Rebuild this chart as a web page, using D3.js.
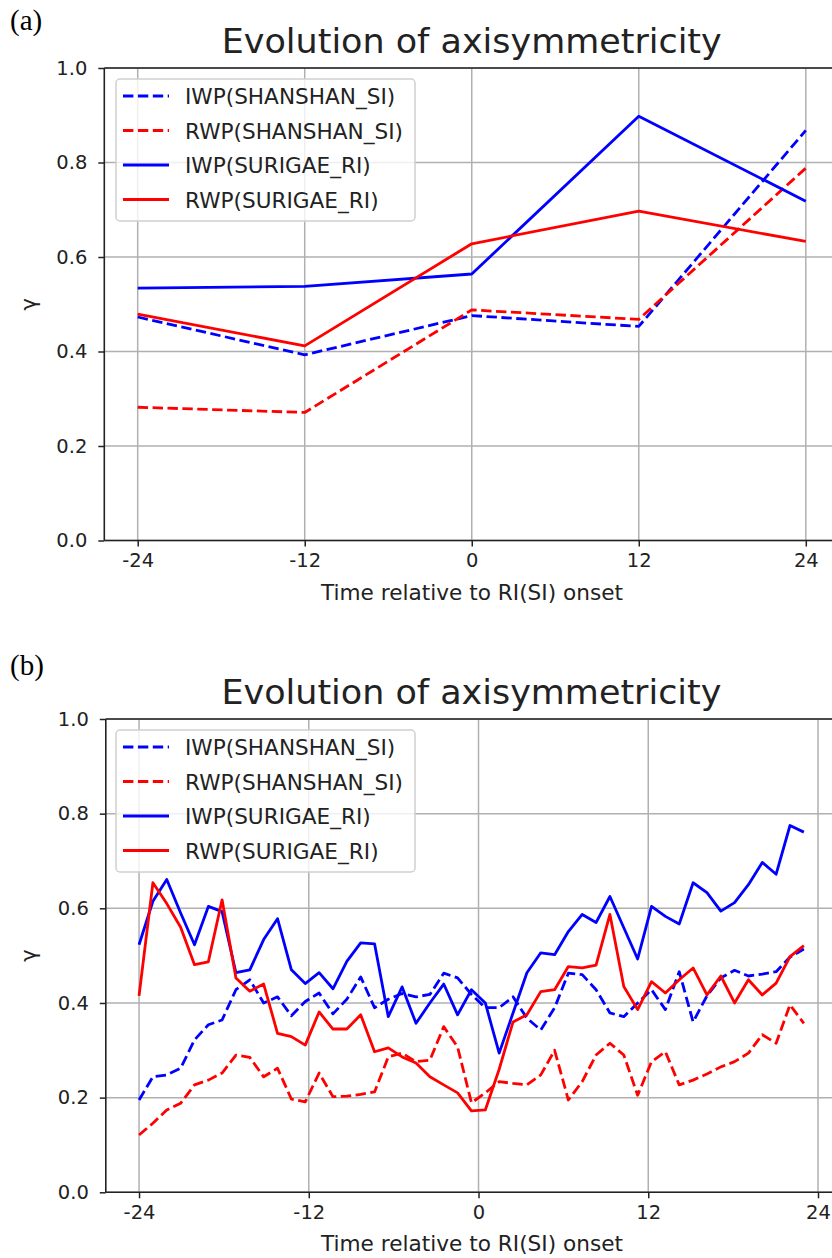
<!DOCTYPE html>
<html><head><meta charset="utf-8">
<script src="https://cdn.jsdelivr.net/npm/d3@7"></script>
<style>body{margin:0;background:#fff} svg{display:block}</style>
</head><body>
<svg id="c" width="832" height="1258"></svg>
<script>
// ---------- shared ----------
const xTicks = [-24, -12, 0, 12, 24];
const yTicks = [0, 0.2, 0.4, 0.6, 0.8, 1.0];
const seriesNames = ["IWP(SHANSHAN_SI)", "RWP(SHANSHAN_SI)", "IWP(SURIGAE_RI)", "RWP(SURIGAE_RI)"];
const seriesColors = ["#0000ff", "#ff0000", "#0000ff", "#ff0000"];
const seriesDashed = [true, true, false, false];
const titleText = "Evolution of axisymmetricity";
const xLabelText = "Time relative to RI(SI) onset";
const yLabelText = "γ";

// ---------- panel (a) ----------
const hoursA = [-24, -12, 0, 12, 24];
const iwpShanA = [0.473, 0.393, 0.476, 0.453, 0.868];
const rwpShanA = [0.282, 0.271, 0.488, 0.468, 0.788];
const iwpSurA  = [0.534, 0.538, 0.564, 0.898, 0.718];
const rwpSurA  = [0.479, 0.412, 0.628, 0.697, 0.633];

// ---------- panel (b) ----------
const hoursB = [-24, -23.02, -22.04, -21.06, -20.08, -19.10, -18.13, -17.15, -16.17, -15.19,
  -14.21, -13.23, -12.25, -11.27, -10.29, -9.31, -8.33, -7.35, -6.38, -5.40,
  -4.42, -3.44, -2.46, -1.48, -0.50, 0.48, 1.46, 2.44, 3.42, 4.40,
  5.38, 6.35, 7.33, 8.31, 9.29, 10.27, 11.25, 12.23, 13.21, 14.19,
  15.17, 16.15, 17.13, 18.10, 19.08, 20.06, 21.04, 22.02, 23.00];
const iwpShanB = [0.195, 0.244, 0.248, 0.262, 0.322, 0.354, 0.364, 0.428, 0.449, 0.400,
  0.413, 0.373, 0.403, 0.421, 0.377, 0.408, 0.455, 0.390, 0.408, 0.420,
  0.413, 0.418, 0.463, 0.453, 0.418, 0.390, 0.390, 0.413, 0.368, 0.343,
  0.390, 0.463, 0.460, 0.428, 0.379, 0.371, 0.400, 0.428, 0.386, 0.466,
  0.360, 0.415, 0.453, 0.469, 0.457, 0.461, 0.466, 0.497, 0.514];
const rwpShanB = [0.121, 0.146, 0.174, 0.188, 0.227, 0.237, 0.252, 0.290, 0.285, 0.244,
  0.262, 0.197, 0.191, 0.252, 0.202, 0.203, 0.207, 0.212, 0.286, 0.294,
  0.276, 0.279, 0.350, 0.307, 0.189, 0.210, 0.234, 0.230, 0.227, 0.248,
  0.300, 0.195, 0.234, 0.290, 0.315, 0.290, 0.205, 0.276, 0.297, 0.227,
  0.237, 0.250, 0.265, 0.276, 0.294, 0.333, 0.315, 0.396, 0.357];
const iwpSurB = [0.523, 0.615, 0.661, 0.590, 0.523, 0.604, 0.593, 0.464, 0.470, 0.534,
  0.578, 0.470, 0.441, 0.464, 0.430, 0.488, 0.527, 0.525, 0.371, 0.434,
  0.357, 0.400, 0.440, 0.375, 0.428, 0.400, 0.294, 0.379, 0.464, 0.506,
  0.502, 0.551, 0.587, 0.570, 0.625, 0.559, 0.493, 0.604, 0.583, 0.567,
  0.654, 0.633, 0.594, 0.612, 0.650, 0.697, 0.672, 0.775, 0.761];
const rwpSurB = [0.415, 0.654, 0.610, 0.560, 0.481, 0.487, 0.618, 0.453, 0.425, 0.440,
  0.336, 0.329, 0.311, 0.381, 0.345, 0.345, 0.375, 0.297, 0.305, 0.286,
  0.273, 0.244, 0.227, 0.210, 0.172, 0.174, 0.260, 0.360, 0.375, 0.424,
  0.428, 0.477, 0.474, 0.480, 0.587, 0.435, 0.386, 0.445, 0.421, 0.449,
  0.474, 0.417, 0.457, 0.400, 0.449, 0.417, 0.442, 0.498, 0.521];

const svg = d3.select("#c");
const FONT = "DejaVu Sans, sans-serif";

function panel(cfg) {
  const { x, y, hours, series, tag, tagY, off } = cfg;
  const g = svg.append("g");
  const [xl, xr] = x.range();
  const [yb, yt] = y.range();

  // grid
  g.selectAll("line.gx").data(xTicks).join("line").attr("class", "gx")
    .attr("x1", d => x(d)).attr("x2", d => x(d)).attr("y1", yt).attr("y2", yb)
    .attr("stroke", "#b0b0b0").attr("stroke-width", 1.5);
  g.selectAll("line.gy").data(yTicks).join("line").attr("class", "gy")
    .attr("x1", xl).attr("x2", xr).attr("y1", d => y(d)).attr("y2", d => y(d))
    .attr("stroke", "#b0b0b0").attr("stroke-width", 1.5);

  // lines
  const line = d3.line().x((d, i) => x(hours[i])).y(d => y(d));
  g.selectAll("path.series").data(series).join("path").attr("class", "series")
    .attr("d", d => line(d))
    .attr("fill", "none")
    .attr("stroke", (d, i) => seriesColors[i])
    .attr("stroke-width", 2.8)
    .attr("stroke-linejoin", "round")
    .attr("stroke-dasharray", (d, i) => seriesDashed[i] ? "10.4,4.5" : null);

  // spines
  const sp = [[xl, yt, xl, yb], [xl, yb, xr, yb], [xl, yt, xr, yt], [xr, yt, xr, yb]];
  g.selectAll("line.sp").data(sp).join("line").attr("class", "sp")
    .attr("x1", d => d[0]).attr("y1", d => d[1]).attr("x2", d => d[2]).attr("y2", d => d[3])
    .attr("stroke", "#222").attr("stroke-width", 1.6);

  // axes
  const ax = g.append("g").attr("transform", `translate(0,${yb})`)
    .call(d3.axisBottom(x).tickValues(xTicks).tickFormat(d => String(d)).tickSize(6).tickPadding(7));
  const ay = g.append("g").attr("transform", `translate(${xl},0)`)
    .call(d3.axisLeft(y).tickValues(yTicks).tickFormat(d3.format(".1f")).tickSize(6).tickPadding(11));
  [ax, ay].forEach(a => {
    a.select(".domain").remove();
    a.selectAll(".tick line").attr("stroke", "#222").attr("stroke-width", 1.5);
    a.selectAll(".tick text").attr("fill", "#222").style("font-family", FONT).style("font-size", "19.5px");
  });

  // title
  g.append("text").attr("x", (xl + xr) / 2).attr("y", 53 + off)
    .attr("text-anchor", "middle").attr("fill", "#222")
    .attr("textLength", 500).attr("lengthAdjust", "spacingAndGlyphs")
    .style("font-family", FONT).style("font-size", "33px").text(titleText);
  // x label
  g.append("text").attr("x", 472).attr("y", 600 + off)
    .attr("text-anchor", "middle").attr("fill", "#222")
    .attr("textLength", 302).attr("lengthAdjust", "spacingAndGlyphs")
    .style("font-family", FONT).style("font-size", "21px").text(xLabelText);
  // y label
  g.append("text").attr("transform", `translate(36,${(yt + yb) / 2}) rotate(-90)`)
    .attr("text-anchor", "middle").attr("fill", "#222")
    .style("font-family", FONT).style("font-size", "21px").text(yLabelText);
  // panel tag
  g.append("text").attr("x", 10).attr("y", tagY)
    .attr("fill", "#000").style("font-family", "Liberation Serif, Times New Roman, serif")
    .style("font-size", "29px").text(tag);

  // legend
  const lg = g.append("g").attr("transform", `translate(116,${79 + off})`);
  lg.append("rect").attr("width", 299).attr("height", 142).attr("rx", 4)
    .attr("fill", "#fff").attr("fill-opacity", 0.8)
    .attr("stroke", "#d0d0d0").attr("stroke-width", 1.5);
  const rows = lg.selectAll("g.row").data(seriesNames).join("g").attr("class", "row")
    .attr("transform", (d, i) => `translate(0,${17 + i * 34.5})`);
  rows.append("line").attr("x1", 7).attr("x2", 53).attr("y1", 0).attr("y2", 0)
    .attr("stroke", (d, i) => seriesColors[i]).attr("stroke-width", 2.8)
    .attr("stroke-dasharray", (d, i) => seriesDashed[i] ? "10.4,4.5" : null);
  rows.append("text").attr("x", 69).attr("y", 8)
    .attr("fill", "#222").style("font-family", FONT).style("font-size", "21.6px")
    .text(d => d);
}

// panel (a)
const xA = d3.scaleLinear().domain([-26.4, 26.4]).range([104.3, 839.2]);
const yA = d3.scaleLinear().domain([0, 1]).range([540.5, 68]);
panel({ x: xA, y: yA, hours: hoursA, series: [iwpShanA, rwpShanA, iwpSurA, rwpSurA],
  tag: "(a)", tagY: 30, off: 0 });

// panel (b)
const xB = d3.scaleLinear().domain([-26.35, 25.35]).range([105.8, 837.1]);
const yB = d3.scaleLinear().domain([0, 1]).range([1192.3, 719]);
panel({ x: xB, y: yB, hours: hoursB, series: [iwpShanB, rwpShanB, iwpSurB, rwpSurB],
  tag: "(b)", tagY: 675, off: 651 });
</script>
</body></html>
